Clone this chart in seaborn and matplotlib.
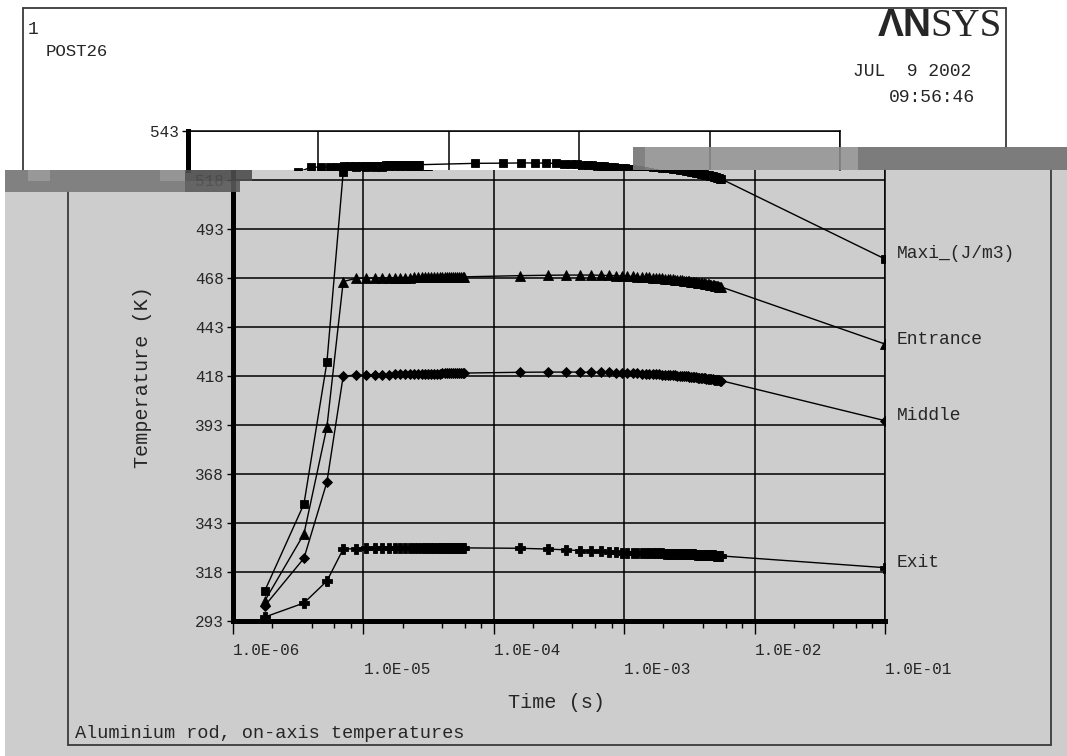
import numpy as np
import matplotlib
matplotlib.use("Agg")
import matplotlib.pyplot as plt
from matplotlib.patches import Rectangle
from matplotlib.lines import Line2D
from matplotlib.ticker import LogLocator, NullFormatter
import seaborn as sns

# ---------------------------------------------------------------- data
# POST26 time history: solution times (microseconds)
time_us = [
    1.75, 3.5, 5.25, 7.0, 8.75, 10.5, 12.25, 14.0, 15.75, 17.5,
    19.25, 21.0, 22.75, 24.5, 26.25, 28.0, 29.75, 31.5, 33.25, 35.0,
    36.75, 38.5, 40.25, 42.0, 43.75, 45.5, 47.25, 49.0, 50.75, 52.5,
    54.25, 56.0, 57.75, 59.5,
    159.5, 259.5, 359.5, 459.5, 559.5, 659.5, 759.5, 859.5, 959.5,
    1059.5, 1159.5, 1259.5, 1359.5, 1459.5, 1559.5, 1659.5, 1759.5, 1859.5, 1959.5,
    2059.5, 2159.5, 2259.5, 2359.5, 2459.5, 2559.5, 2659.5, 2759.5, 2859.5, 2959.5,
    3059.5, 3159.5, 3259.5, 3359.5, 3459.5, 3559.5, 3659.5, 3759.5, 3859.5, 3959.5,
    4059.5, 4159.5, 4259.5, 4359.5, 4459.5, 4559.5, 4659.5, 4759.5, 4859.5, 4959.5,
    5059.5, 5159.5, 5259.5, 5359.5, 5459.5, 5559.5,
    100000.0,
]

# on-axis temperatures (K)
temp_maxi = [
    308.3, 352.7, 425.0, 522.0,
    524.5, 524.6, 524.7, 524.8, 524.9, 525.0, 525.0, 525.1, 525.1, 525.2,
    525.2, 525.3, 525.3, 525.3, 525.4, 525.4, 525.4, 525.5, 525.5, 525.5,
    525.5, 525.6, 525.6, 525.6, 525.6, 525.7, 525.7, 525.7, 525.7, 525.8,
    526.5, 526.6, 526.7, 526.7, 526.6, 526.5, 526.4, 526.2, 526.0,
    525.8, 525.6, 525.5, 525.3, 525.2, 525.0, 524.8, 524.7, 524.5, 524.3,
    524.2, 524.0, 523.9, 523.7, 523.5, 523.4, 523.2, 523.0, 522.9, 522.7,
    522.6, 522.4, 522.2, 522.1, 521.9, 521.7, 521.6, 521.4, 521.3, 521.1,
    520.9, 520.8, 520.6, 520.4, 520.3, 520.1, 520.0, 519.8, 519.6, 519.5,
    519.3, 519.1, 519.0, 518.8, 518.7, 518.5,
    477.7,
]

temp_entrance = [
    303.2, 337.4, 392.0, 466.2,
    467.8, 467.9, 468.0, 468.0, 468.1, 468.1, 468.2, 468.2, 468.2, 468.3,
    468.3, 468.3, 468.3, 468.4, 468.4, 468.4, 468.4, 468.4, 468.5, 468.5,
    468.5, 468.5, 468.5, 468.5, 468.6, 468.6, 468.6, 468.6, 468.6, 468.6,
    469.2, 469.4, 469.5, 469.5, 469.5, 469.4, 469.3, 469.2, 469.0,
    468.9, 468.8, 468.7, 468.5, 468.4, 468.3, 468.2, 468.0, 467.9, 467.8,
    467.7, 467.6, 467.4, 467.3, 467.2, 467.1, 466.9, 466.8, 466.7, 466.6,
    466.5, 466.3, 466.2, 466.1, 466.0, 465.8, 465.7, 465.6, 465.5, 465.4,
    465.2, 465.1, 465.0, 464.9, 464.7, 464.6, 464.5, 464.4, 464.3, 464.1,
    464.0, 463.9, 463.8, 463.6, 463.5, 463.4,
    434.3,
]

temp_middle = [
    300.7, 325.0, 363.9, 418.0,
    418.4, 418.5, 418.6, 418.7, 418.7, 418.8, 418.8, 418.9, 418.9, 419.0,
    419.0, 419.0, 419.1, 419.1, 419.1, 419.2, 419.2, 419.2, 419.3, 419.3,
    419.3, 419.3, 419.4, 419.4, 419.4, 419.4, 419.5, 419.5, 419.5, 419.5,
    419.9, 420.0, 420.0, 420.0, 419.9, 419.9, 419.8, 419.7, 419.6,
    419.5, 419.4, 419.3, 419.2, 419.2, 419.1, 419.0, 418.9, 418.8, 418.7,
    418.6, 418.5, 418.5, 418.4, 418.3, 418.2, 418.1, 418.0, 417.9, 417.9,
    417.8, 417.7, 417.6, 417.5, 417.4, 417.3, 417.2, 417.2, 417.1, 417.0,
    416.9, 416.8, 416.7, 416.6, 416.5, 416.5, 416.4, 416.3, 416.2, 416.1,
    416.0, 415.9, 415.8, 415.8, 415.7, 415.6,
    395.2,
]

temp_exit = [
    295.0, 302.2, 313.4, 329.7,
    329.9, 330.0, 330.0, 330.0, 330.0, 330.1, 330.1, 330.1, 330.1, 330.1,
    330.1, 330.1, 330.2, 330.2, 330.2, 330.2, 330.2, 330.2, 330.2, 330.2,
    330.2, 330.2, 330.2, 330.3, 330.3, 330.3, 330.3, 330.3, 330.3, 330.3,
    330.1, 329.7, 329.3, 328.9, 328.7, 328.5, 328.3, 328.1, 327.9,
    327.8, 327.8, 327.7, 327.7, 327.7, 327.6, 327.6, 327.6, 327.5, 327.5,
    327.4, 327.4, 327.4, 327.3, 327.3, 327.3, 327.2, 327.2, 327.2, 327.1,
    327.1, 327.1, 327.0, 327.0, 327.0, 326.9, 326.9, 326.9, 326.8, 326.8,
    326.7, 326.7, 326.7, 326.6, 326.6, 326.6, 326.5, 326.5, 326.5, 326.4,
    326.4, 326.4, 326.3, 326.3, 326.2, 326.2,
    320.2,
]

series_names = ["Maxi_(J/m3)", "Entrance", "Middle", "Exit"]
series_temps = [temp_maxi, temp_entrance, temp_middle, temp_exit]
series_markers = ["s", "^", "D", "P"]
series_msize = [5.6, 6.6, 5.6, 7.2]

y_ticks = [293, 318, 343, 368, 393, 418, 443, 468, 493, 518, 543]
x_decades = [1e-6, 1e-5, 1e-4, 1e-3, 1e-2, 1e-1]
x_tick_labels = ["1.0E-06", "1.0E-05", "1.0E-04", "1.0E-03", "1.0E-02", "1.0E-01"]

for temps in series_temps:
    assert len(temps) == len(time_us)
time_s = np.asarray(time_us) * 1e-6

# ---------------------------------------------------------------- style
sns.set_style("white")
MONO = ["Liberation Mono", "DejaVu Sans Mono"]
plt.rcParams["font.family"] = MONO
plt.rcParams["axes.linewidth"] = 1.0

PANEL = "#cdcdcd"
W, H = 1067, 756
fig = plt.figure(figsize=(W / 100, H / 100), dpi=100, facecolor=PANEL)


def fx(px):
    return px / W


def fy(py):
    return 1 - py / H


def box(l, t, r, b):
    return [l / W, 1 - b / H, (r - l) / W, (b - t) / H]


# white title area at the top and a thin white edge on the left
fig.add_artist(Rectangle((0, fy(170)), 1, 1 - fy(170), transform=fig.transFigure,
                         facecolor="white", edgecolor="none", zorder=-5))
fig.add_artist(Rectangle((0, 0), fx(5), fy(170), transform=fig.transFigure,
                         facecolor="white", edgecolor="none", zorder=-5))

# frame lines
frame_kw = dict(color="#3a3a3a", lw=1.3, transform=fig.transFigure)
fig.add_artist(Line2D([fx(23), fx(1006)], [fy(8), fy(8)], **frame_kw))
fig.add_artist(Line2D([fx(23), fx(23)], [fy(8), fy(170)], **frame_kw))
fig.add_artist(Line2D([fx(1006), fx(1006)], [fy(8), fy(148)], **frame_kw))
fig.add_artist(Line2D([fx(68), fx(68)], [fy(192), fy(745)], **frame_kw))
fig.add_artist(Line2D([fx(68), fx(1051)], [fy(745), fy(745)], **frame_kw))
fig.add_artist(Line2D([fx(1051), fx(1051)], [fy(170), fy(745)], **frame_kw))

Y_SPLIT = 293 + (621 - 170) / 1.96   # temperature at the white/grey boundary


def draw_series(ax):
    for name, temps, mk, ms in zip(series_names, series_temps, series_markers, series_msize):
        sns.lineplot(x=time_s, y=temps, ax=ax, color="black", lw=1.0,
                     marker=mk, markersize=ms, markerfacecolor="black",
                     markeredgecolor="black", markeredgewidth=0.6,
                     estimator=None, sort=False, legend=False)


def style_axes(ax):
    ax.set_xscale("log")
    ax.set_xlim(1e-6, 1e-1)
    ax.set_xlabel("")
    ax.set_ylabel("")
    ax.set_axisbelow(True)
    ax.grid(True, which="major", color="black", lw=1.1)
    ax.grid(False, which="minor")


# ---------------------------------------------------------------- main (grey) axes
ax = fig.add_axes(box(233, 170, 885, 621))
ax.set_facecolor("none")
draw_series(ax)
style_axes(ax)
ax.set_ylim(293, Y_SPLIT)
ax.set_yticks(y_ticks[:-1])
ax.set_xticks(x_decades)
ax.set_xticklabels([])
ax.xaxis.set_minor_locator(LogLocator(base=10, subs=(2, 4, 6, 8)))
ax.xaxis.set_minor_formatter(NullFormatter())
ax.tick_params(axis="x", which="major", length=9, width=1.0, direction="out",
               color="black", bottom=True)
ax.tick_params(axis="x", which="minor", length=5, width=1.0, direction="out",
               color="black", bottom=True)
ax.tick_params(axis="y", which="major", length=4, width=1.0, direction="out",
               color="black", left=True, labelsize=11.5, pad=2.5)
for sp in ("left", "bottom"):
    ax.spines[sp].set_linewidth(3.6)
    ax.spines[sp].set_color("black")
ax.spines["right"].set_linewidth(1.1)
ax.spines["right"].set_color("black")
ax.spines["top"].set_visible(False)

# staggered decade labels
for i, (xv, lab) in enumerate(zip(x_decades, x_tick_labels)):
    yf = -0.0665 if i % 2 == 0 else -0.1086
    ax.text(xv, yf, lab, transform=ax.get_xaxis_transform(), ha="left",
            va="center", fontsize=11.5, clip_on=False)

# curve names next to the last point
for name, temps in zip(series_names, series_temps):
    ax.annotate(name, xy=(time_s[-1], temps[-1]), xytext=(12, 5),
                textcoords="offset pixels", ha="left", va="center",
                fontsize=13, annotation_clip=False)

# ---------------------------------------------------------------- top (white) strip
ax_top = fig.add_axes(box(188, 131, 840, 170))
ax_top.set_facecolor("white")
draw_series(ax_top)
style_axes(ax_top)
ax_top.set_ylim(Y_SPLIT, 543)
ax_top.set_yticks([543])
ax_top.set_xticks(x_decades)
ax_top.set_xticklabels([])
ax_top.xaxis.set_minor_locator(LogLocator(base=10, subs=(2, 4, 6, 8)))
ax_top.xaxis.set_minor_formatter(NullFormatter())
ax_top.tick_params(axis="x", which="both", length=0)
ax_top.tick_params(axis="y", length=4, width=1.0, direction="out", color="black",
                   left=True, labelsize=11.5, pad=2.5)
ax_top.spines["left"].set_linewidth(3.6)
ax_top.spines["left"].set_color("black")
ax_top.spines["bottom"].set_visible(False)
for sp in ("top", "right"):
    ax_top.spines[sp].set_linewidth(1.1)
    ax_top.spines[sp].set_color("black")

# ---------------------------------------------------------------- bands across the boundary
def band(l, t, r, b, color, alpha=0.94):
    fig.add_artist(Rectangle((fx(l), fy(b)), fx(r) - fx(l), fy(t) - fy(b),
                             transform=fig.transFigure, facecolor=color,
                             edgecolor="none", alpha=alpha, zorder=6))


band(5, 170, 185, 192, "#7c7c7c")
band(28, 170, 50, 181, "#9a9a9a")
band(160, 170, 185, 181, "#9c9c9c", 0.75)
band(185, 170, 252, 181, "#4e4e4e", 0.9)
band(185, 181, 240, 192, "#5a5a5a", 0.9)
band(633, 147, 645, 170, "#7a7a7a")
band(645, 147, 858, 170, "#8e8e8e", 0.88)
band(858, 147, 1067, 170, "#747474")

# ---------------------------------------------------------------- titles and labels
fig.text(fx(28), fy(29), "1", ha="left", va="center", fontsize=13)
fig.text(fx(46), fy(51), "POST26", ha="left", va="center", fontsize=12.5)
fig.text(fx(1002), fy(26), "SYS", ha="right", va="center", fontsize=28,
         family=["Liberation Serif", "DejaVu Serif"])
fig.text(fx(932), fy(26), "ΛN", ha="right", va="center", fontsize=28,
         fontweight="heavy", family=["Liberation Sans", "DejaVu Sans"])
fig.text(fx(853), fy(72), "JUL  9 2002", ha="left", va="center", fontsize=13)
fig.text(fx(889), fy(98), "09:56:46", ha="left", va="center", fontsize=13)

fig.text(fx(143), fy(377), "Temperature (K)", rotation=90, ha="center",
         va="center", fontsize=14.5)
fig.text(fx(557), fy(702), "Time (s)", ha="center", va="center", fontsize=14.5)
fig.text(fx(75), fy(734), "Aluminium rod, on-axis temperatures", ha="left",
         va="center", fontsize=13.4)

fig.savefig("out.png", dpi=100, facecolor=fig.get_facecolor())
